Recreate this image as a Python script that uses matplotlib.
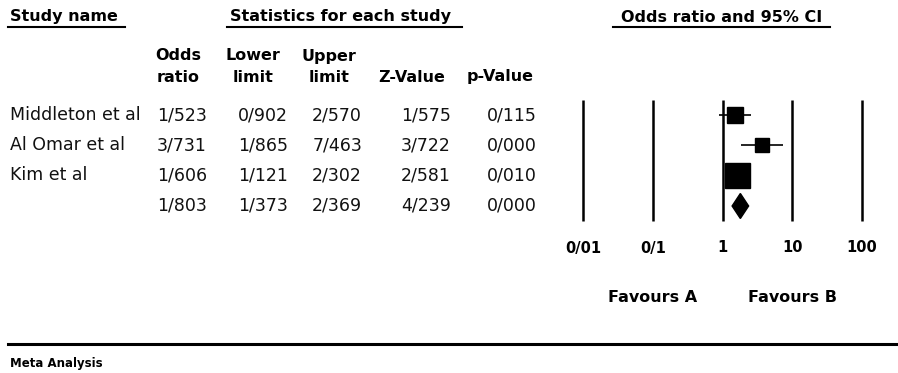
import matplotlib
matplotlib.use("Agg")
import matplotlib.pyplot as plt
from matplotlib.patches import Polygon

plt.rcParams['font.family'] = ['DejaVu Sans']

# ---- data ----
studies = ["Middleton et al", "Al Omar et al", "Kim et al", ""]
odds_ratio = [1.523, 3.731, 1.606, 1.803]
lower_limit = [0.902, 1.865, 1.121, 1.373]
upper_limit = [2.570, 7.463, 2.302, 2.369]
z_value = [1.575, 3.722, 2.581, 4.239]
p_value = [0.115, 0.000, 0.010, 0.000]
axis_ticks = [0.01, 0.1, 1, 10, 100]
axis_tick_labels = ["0/01", "0/1", "1", "10", "100"]
column_headers = [("Odds", "ratio"), ("Lower", "limit"), ("Upper", "limit"),
                  ("", "Z-Value"), ("", "p-Value")]


def fmt(v):
    # numbers shown with "/" as the decimal separator
    return f"{v:.3f}".replace(".", "/")


# ---- layout (pixel coordinates) ----
W, H = 898, 373
row_y = [115, 145, 175, 206]
col_right = [207, 288, 362, 451, 537]
col_center = [178, 253, 329, 412, 500]
square_sizes = [11.5, 9.4, 18.0]

fig = plt.figure(figsize=(W / 100, H / 100), dpi=100)
ax = fig.add_axes([0, 0, 1, 1])
ax.set_xlim(0, W)
ax.set_ylim(H, 0)
ax.axis("off")

bold = dict(fontweight="bold", color="black")

# section headers with underlines
ax.text(10, 17, "Study name", fontsize=11.5, ha="left", va="center", **bold)
ax.plot([8, 125], [27, 27], color="black", lw=1.5)
ax.text(341, 17, "Statistics for each study", fontsize=11.5, ha="center", va="center", **bold)
ax.plot([227, 462], [27, 27], color="black", lw=1.5)
ax.text(722, 17, "Odds ratio and 95% CI", fontsize=11.5, ha="center", va="center", **bold)
ax.plot([613, 830], [27, 27], color="black", lw=1.5)

# column headers
for (top, bottom), cx in zip(column_headers, col_center):
    if top:
        ax.text(cx, 56, top, fontsize=11.5, ha="center", va="center", **bold)
    ax.text(cx, 77, bottom, fontsize=11.5, ha="center", va="center", **bold)

# table rows
for i, y in enumerate(row_y):
    ax.text(10, y, studies[i], fontsize=12.5, ha="left", va="center", color="#111111")
    vals = [odds_ratio[i], lower_limit[i], upper_limit[i], z_value[i], p_value[i]]
    for v, rx in zip(vals, col_right):
        ax.text(rx, y, fmt(v), fontsize=12.5, ha="right", va="center", color="#111111")

# bottom rule and caption
ax.plot([8, W], [344, 344], color="black", lw=2.2)
ax.text(10, 363, "Meta Analysis", fontsize=8.5, ha="left", va="center", **bold)

# ---- forest plot on a log scale ----
fa = fig.add_axes([583 / W, 0, (862 - 583) / W, 1])
fa.set_xscale("log")
fa.set_xlim(axis_ticks[0], axis_ticks[-1])
fa.set_ylim(H, 0)
fa.axis("off")

fa.vlines(axis_ticks, 100, 221, color="black", lw=1.8, clip_on=False)

for i in range(3):
    fa.hlines(row_y[i], lower_limit[i], upper_limit[i], color="black", lw=1.2)
    fa.plot(odds_ratio[i], row_y[i], marker="s", ms=square_sizes[i],
            color="black", mec="black")

# pooled estimate as a diamond
yd = row_y[3]
h = 12.5
diamond = Polygon([(lower_limit[3], yd), (odds_ratio[3], yd - h),
                   (upper_limit[3], yd), (odds_ratio[3], yd + h)],
                  closed=True, color="black")
fa.add_patch(diamond)

for t, lab in zip(axis_ticks, axis_tick_labels):
    fa.text(t, 248, lab, fontsize=10.5, ha="center", va="center", **bold)

fa.text(0.1, 297, "Favours A", fontsize=11.5, ha="center", va="center", **bold)
fa.text(10, 297, "Favours B", fontsize=11.5, ha="center", va="center", **bold)

fig.savefig("out.png", dpi=100)
